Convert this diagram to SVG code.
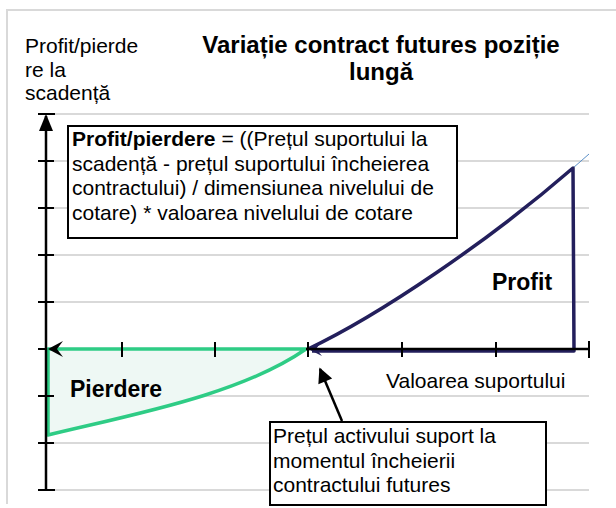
<svg xmlns="http://www.w3.org/2000/svg" width="616" height="508" viewBox="0 0 616 508">
<style>
text{font-family:"Liberation Sans",Arial,sans-serif;fill:#000}
.t{font-size:21px}
.b{font-weight:bold}
.grid line{stroke:#d9d9d9;stroke-width:2}
.ax{stroke:#000;stroke-width:2.5;fill:none}
.tick{stroke:#000;stroke-width:2}
.box{fill:#fff;stroke:#000;stroke-width:2}
</style>
<defs>
<marker id="ptr" viewBox="0 0 10 10" refX="9" refY="5" markerWidth="7" markerHeight="6" markerUnits="strokeWidth" orient="auto">
<path d="M0,0 L10,5 L0,10 z" fill="#000"/>
</marker>
</defs>
<rect x="0" y="0" width="616" height="508" fill="#fff"/>
<g id="frame">
<line x1="6" y1="10" x2="616" y2="10" stroke="#d9d9d9" stroke-width="2"/>
<line x1="7" y1="10" x2="7" y2="504" stroke="#d9d9d9" stroke-width="2"/>
</g>
<g id="gridlines" class="grid">
<line x1="50" y1="114" x2="589" y2="114"/>
<line x1="50" y1="161" x2="589" y2="161"/>
<line x1="50" y1="208" x2="589" y2="208"/>
<line x1="50" y1="255" x2="589" y2="255"/>
<line x1="50" y1="302" x2="589" y2="302"/>
<line x1="50" y1="396" x2="589" y2="396"/>
<line x1="50" y1="443" x2="589" y2="443"/>
<line x1="50" y1="490" x2="589" y2="490"/>
</g>
<g id="title">
<text class="b" x="381" y="53" font-size="24" text-anchor="middle">Variație contract futures poziție</text>
<text class="b" x="381" y="80" font-size="24" text-anchor="middle">lungă</text>
</g>
<g id="y-label">
<text class="t" x="25" y="53">Profit/pierde</text>
<text class="t" x="25" y="77">re la</text>
<text class="t" x="25" y="100">scadență</text>
</g>
<g id="loss-area">
<path d="M48,349 L306,349 C240,395 130,415 48,435 Z" fill="#eef8f4" stroke="#2ecc85" stroke-width="3.5" stroke-linejoin="round"/>
<text class="b" x="70" y="397" font-size="23">Pierdere</text>
</g>
<g id="profit-area">
<line x1="573" y1="168" x2="589" y2="154" stroke="#5b8fc7" stroke-width="1"/>
<path d="M308,349 C380,315 490,240 573,168 L574,351 L312,351" fill="none" stroke="#231f5c" stroke-width="3.5" stroke-linejoin="round"/>
<path d="M308,349 L322,341 L316,349 L322,356 Z" fill="#231f5c"/>
<text class="b" x="492" y="290" font-size="23">Profit</text>
</g>
<g id="axes">
<line class="ax" x1="46" y1="116" x2="46" y2="490"/>
<line class="tick" x1="38" y1="114" x2="55" y2="114"/>
<path d="M46,114 L53,131 L39,131 Z" fill="#000"/>
<line class="tick" x1="38" y1="161" x2="54" y2="161"/>
<line class="tick" x1="38" y1="208" x2="54" y2="208"/>
<line class="tick" x1="38" y1="255" x2="54" y2="255"/>
<line class="tick" x1="38" y1="302" x2="54" y2="302"/>
<line class="tick" x1="38" y1="349" x2="46" y2="349"/>
<line class="tick" x1="38" y1="396" x2="54" y2="396"/>
<line class="tick" x1="38" y1="443" x2="54" y2="443"/>
<line class="tick" x1="38" y1="490" x2="55" y2="490"/>
<line class="ax" x1="306" y1="349" x2="589" y2="349" stroke-width="2"/>
<line class="tick" x1="122" y1="342" x2="122" y2="357"/>
<line class="tick" x1="215" y1="342" x2="215" y2="357"/>
<line class="tick" x1="308" y1="342" x2="308" y2="357"/>
<line class="tick" x1="402" y1="342" x2="402" y2="357"/>
<line class="tick" x1="496" y1="342" x2="496" y2="357"/>
<line class="tick" x1="589" y1="341" x2="589" y2="358"/>
<path d="M48,349 L63,341 L57,349 L63,357 Z" fill="#000"/>
<text class="t" x="386" y="388">Valoarea suportului</text>
</g>
<g id="formula-box">
<rect class="box" x="68" y="126" width="389" height="112"/>
<text class="t" x="72" y="146"><tspan class="b">Profit/pierdere</tspan> = ((Prețul suportului la</text>
<text class="t" x="72" y="170.5">scadență - prețul suportului încheierea</text>
<text class="t" x="72" y="195">contractului) / dimensiunea nivelului de</text>
<text class="t" x="72" y="219.5">cotare) * valoarea nivelului de cotare</text>
</g>
<g id="note-box">
<rect class="box" x="270" y="422" width="276" height="83"/>
<text class="t" x="273" y="443">Prețul activului suport la</text>
<text class="t" x="273" y="468">momentul încheierii</text>
<text class="t" x="273" y="492">contractului futures</text>
</g>
<g id="connectors">
<line x1="342" y1="421" x2="320" y2="369" stroke="#000" stroke-width="2.5" marker-end="url(#ptr)"/>
</g>
</svg>
